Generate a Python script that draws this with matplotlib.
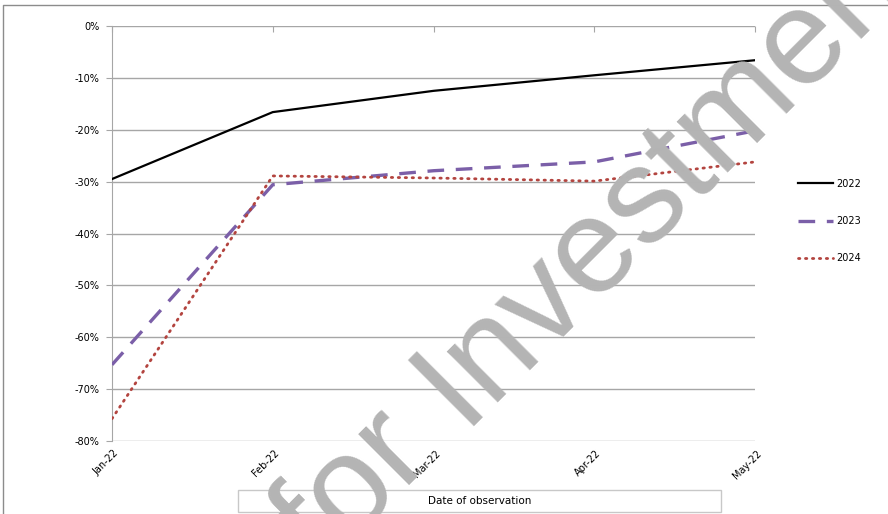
import matplotlib.pyplot as plt
import matplotlib.ticker as mtick
from matplotlib.lines import Line2D
from matplotlib.patches import Rectangle

months = ["Jan-22", "Feb-22", "Mar-22", "Apr-22", "May-22"]
s2022 = [-29.5, -16.6, -12.5, -9.5, -6.6]
s2023 = [-65.3, -30.6, -27.9, -26.2, -20.2]
s2024 = [-75.7, -28.9, -29.3, -29.9, -26.2]

plt.rcParams['font.family'] = ['DejaVu Sans']

fig = plt.figure(figsize=(8.88, 5.14), dpi=100)
ax = fig.add_axes([112/888, 1-441/514, (755-112)/888, (441-26)/514])

c23 = '#7b5fa8'
c24 = '#b3443f'
dot = (0, (0.5, 2.0))

x = list(range(len(months)))
ax.plot(x, s2022, color='black', lw=1.6, label='2022', zorder=3)
ax.plot(x, s2023, color=c23, lw=2.4, dashes=(5, 3.5), label='2023', zorder=3)
ax.plot(x, s2024, color=c24, lw=2.0, linestyle=dot,
        dash_capstyle='round', label='2024', zorder=3)

ax.set_xlim(0, 4)
ax.set_ylim(-80, 0)
ax.set_yticks(range(-80, 1, 10))
ax.yaxis.set_major_formatter(mtick.FuncFormatter(lambda v, p: '%d%%' % v))
ax.grid(axis='y', color='#a6a6a6', lw=1.0)
ax.set_axisbelow(True)
for s in ['right', 'bottom', 'top']:
    ax.spines[s].set_visible(False)
ax.spines['left'].set_color('#a6a6a6')

ax.set_xticks(x)
ax.set_xticklabels([])
ax.tick_params(axis='x', top=True, bottom=False, direction='in', length=4, color='#a6a6a6')
ax.tick_params(axis='y', length=4, color='#a6a6a6', labelsize=7, pad=5)
for xi, m in zip(x, months):
    ax.annotate(m, xy=(xi, -80), xytext=(1, -5), textcoords='offset points',
                ha='right', va='top', rotation=45, rotation_mode='anchor', fontsize=7)

leg = fig.legend(handles=[Line2D([], [], color='black', lw=1.6),
                          Line2D([], [], color=c23, lw=2.4, dashes=(5, 3.5)),
                          Line2D([], [], color=c24, lw=2.0, linestyle=dot,
                                 dash_capstyle='round')],
                 labels=['2022', '2023', '2024'], loc='center left',
                 bbox_to_anchor=(793/888, 1-221/514), frameon=False, fontsize=7,
                 handlelength=3.6, handletextpad=0.3, labelspacing=2.8, borderpad=0)

# x axis title box
fig.patches.append(Rectangle((238/888, 1-512/514), (721-238)/888, 22/514,
                             transform=fig.transFigure, fill=False, ec='#c8c8c8', lw=1))
fig.text(480/888, 1-501/514, 'Date of observation', ha='center', va='center', fontsize=7.5)

# outer border (cropped)
fig.lines.append(Line2D([3/888, 3/888, 1], [0, 1-5/514, 1-5/514],
                        transform=fig.transFigure, color='#8c8c8c', lw=1))

# watermark
wm = dict(rotation=45, rotation_mode='anchor', ha='left', va='baseline',
          fontsize=98, color='#b4b4b4', family='Liberation Sans', zorder=10)
fig.text(322/888, 1-570/514, 'for', **wm)
fig.text(462/888, 1-426/514, 'Investment', **wm)

fig.savefig('out.png', dpi=100)
